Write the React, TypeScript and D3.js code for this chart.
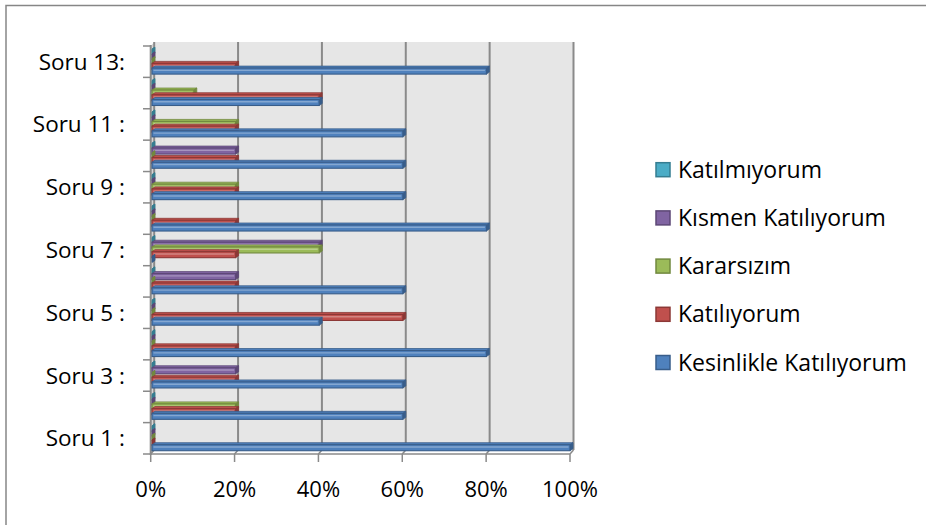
import React from "react";
import * as d3 from "d3";

const categories = [
  "Soru 1 :", "Soru 2 :", "Soru 3 :", "Soru 4 :", "Soru 5 :", "Soru 6 :", "Soru 7 :",
  "Soru 8 :", "Soru 9 :", "Soru 10 :", "Soru 11 :", "Soru 12 :", "Soru 13:",
];
// values in percent
const kesinlikleKatiliyorum = [100, 60, 60, 80, 40, 60, 0, 80, 60, 60, 60, 40, 80];
const katiliyorum = [0, 20, 20, 20, 60, 20, 20, 20, 20, 20, 20, 40, 20];
const kararsizim = [0, 20, 0, 0, 0, 0, 40, 0, 20, 0, 20, 10, 0];
const kismenKatiliyorum = [0, 0, 20, 0, 0, 20, 40, 0, 0, 20, 0, 0, 0];
const katilmiyorum = [0, 0, 0, 0, 0, 0, 0, 0, 0, 0, 0, 0, 0];
const xTicks = [0, 20, 40, 60, 80, 100];

const seriesNames = [
  "Kesinlikle Katılıyorum",
  "Katılıyorum",
  "Kararsızım",
  "Kısmen Katılıyorum",
  "Katılmıyorum",
];
const seriesValues = [kesinlikleKatiliyorum, katiliyorum, kararsizim, kismenKatiliyorum, katilmiyorum];
const seriesColors = ["#4F81BD", "#C0504D", "#9BBB59", "#8064A2", "#4BACC6"];
const seriesDark = ["#385D8A", "#8C3836", "#71893F", "#5C4776", "#357D91"];

const FONT = "'Open Sans', sans-serif";

export default function App() {
  const frontX = d3.scaleLinear().domain([0, 100]).range([150.7, 570]);
  const backX = d3.scaleLinear().domain([0, 100]).range([154.2, 573.5]);
  const barX = d3.scaleLinear().domain([0, 100]).range([152, 570]);
  const yBand = d3.scaleBand<string>().domain(categories).range([454, 46]).padding(0);
  const depthDy = -4;
  const wallTop = 46 + depthDy;
  const wallBottom = 454 + depthDy;
  const sub = d3
    .scalePoint<string>()
    .domain([...seriesNames].reverse())
    .range([5.2, 24.1]);

  const boundaries = d3.range(categories.length + 1).map((i) =>
    i < categories.length ? (yBand(categories[i]) as number) + yBand.bandwidth() : (yBand(categories[i - 1]) as number)
  );

  const bars: React.ReactNode[] = [];
  for (let ci = categories.length - 1; ci >= 0; ci--) {
    const y0 = yBand(categories[ci]) as number;
    for (let si = seriesNames.length - 1; si >= 0; si--) {
      const v = seriesValues[si][ci];
      const cy = y0 + (sub(seriesNames[si]) as number);
      const x0 = barX(0);
      const x1 = barX(v);
      const d = 3;
      const tf = cy - 2;
      const ff = cy + 4;
      const c = seriesColors[si];
      const dk = seriesDark[si];
      const light = d3.interpolateRgb(c, "#ffffff")(0.3);
      bars.push(
        <g key={`b-${ci}-${si}`}>
          <polygon
            points={`${x0},${tf} ${x0 + d},${tf - 2} ${x1 + d},${tf - 2} ${x1},${tf}`}
            fill={c}
            stroke={dk}
            strokeWidth={0.8}
          />
          <polygon
            points={`${x1},${tf} ${x1 + d},${tf - 2} ${x1 + d},${ff - 2} ${x1},${ff}`}
            fill={dk}
            stroke={dk}
            strokeWidth={0.8}
          />
          <rect x={x0} y={tf} width={Math.max(0, x1 - x0)} height={ff - tf} fill={c} stroke={dk} strokeWidth={1.1} />
          {x1 - x0 > 4 && (
            <line x1={x0 + 1.5} x2={x1 - 1.5} y1={tf + 2.3} y2={tf + 2.3} stroke={light} strokeWidth={1.4} />
          )}
        </g>
      );
    }
  }

  const gridColor = "#8a8a8a";
  const legendY = d3.scalePoint<string>().domain([...seriesNames].reverse()).range([169.7, 362.5]);

  return (
    <svg
      width={926}
      height={525}
      style={{ position: "absolute", left: 0, top: 0, background: "#ffffff" }}
      fontFamily={FONT}
    >
      <rect x={0} y={0} width={926} height={525} fill="#ffffff" />
      <rect x={6} y={5.5} width={1000} height={1000} fill="none" stroke="#868686" strokeWidth={1.5} />

      <rect x={backX(0)} y={wallTop} width={backX(100) - backX(0)} height={wallBottom - wallTop} fill="#e6e6e6" />
      <polygon
        points={`${frontX(0)},46 ${backX(0)},${wallTop} ${backX(0)},${wallBottom} ${frontX(0)},454`}
        fill="#d4d4d4"
      />
      {xTicks.map((t) => (
        <g key={`g-${t}`}>
          <line x1={backX(t)} x2={backX(t)} y1={wallTop} y2={wallBottom} stroke={gridColor} strokeWidth={2} />
          <line x1={frontX(t)} x2={backX(t)} y1={454} y2={wallBottom} stroke={gridColor} strokeWidth={1.5} />
        </g>
      ))}
      <line x1={frontX(0)} x2={frontX(0)} y1={45} y2={455} stroke={gridColor} strokeWidth={2} />
      {boundaries.map((b, i) => (
        <line key={`yt-${i}`} x1={143} x2={frontX(0)} y1={b} y2={b} stroke={gridColor} strokeWidth={1.5} />
      ))}
      <line x1={frontX(0)} x2={frontX(100)} y1={454} y2={454} stroke={gridColor} strokeWidth={1.5} />
      {xTicks.map((t) => (
        <line key={`xt-${t}`} x1={frontX(t)} x2={frontX(t)} y1={454} y2={462} stroke={gridColor} strokeWidth={1.5} />
      ))}

      {bars}

      {categories.map((c, i) =>
        i % 2 === 0 ? (
          <text
            key={`cl-${i}`}
            x={125}
            y={(yBand(c) as number) + yBand.bandwidth() / 2 + 8}
            textAnchor="end"
            fontSize={22.5}
            fill="#000"
          >
            {c}
          </text>
        ) : null
      )}
      {xTicks.map((t) => (
        <text key={`xl-${t}`} x={frontX(t)} y={496.5} textAnchor="middle" fontSize={22} fill="#000">
          {`${t}%`}
        </text>
      ))}

      {[...seriesNames].reverse().map((n) => {
        const si = seriesNames.indexOf(n);
        const cy = legendY(n) as number;
        return (
          <g key={`lg-${n}`}>
            <rect x={656} y={cy - 7} width={14} height={14} fill={seriesColors[si]} stroke={seriesDark[si]} strokeWidth={1.5} />
            <text x={678} y={cy + 8} fontSize={23} fill="#000">
              {n}
            </text>
          </g>
        );
      })}
    </svg>
  );
}
